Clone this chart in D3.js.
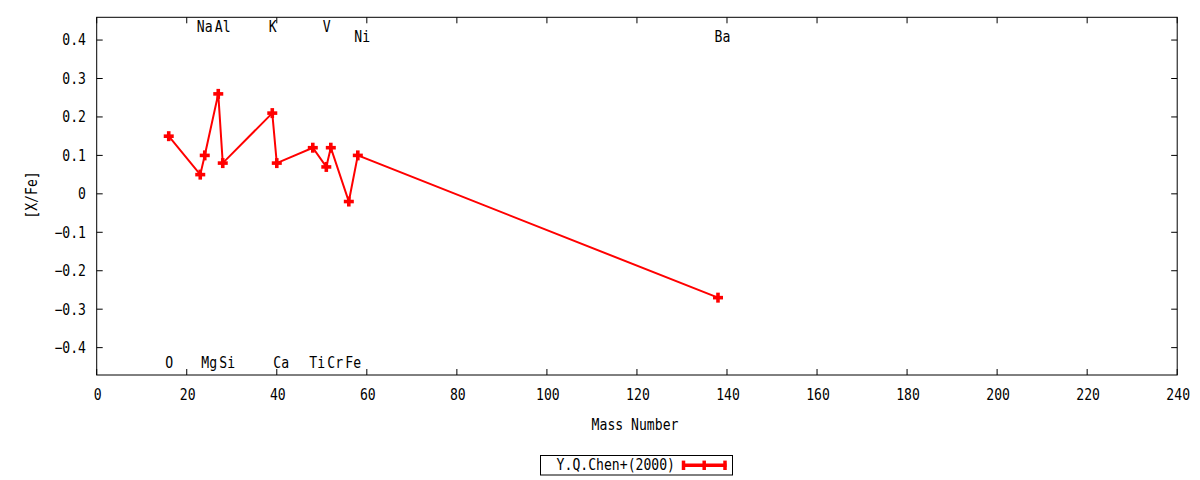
<!DOCTYPE html>
<html>
<head>
<meta charset="utf-8">
<script src="https://cdn.jsdelivr.net/npm/d3@7"></script>
<style>
  html, body { margin: 0; padding: 0; background: #fff; }
  svg text { font-family: "DejaVu Sans Mono", monospace; font-size: 15px; fill: #000; }
</style>
</head>
<body>
<svg id="chart" width="1200" height="480"></svg>
<script>
// Data
const elements = ["O", "Na", "Mg", "Al", "Si", "K", "Ca", "Ti", "V", "Cr", "Fe", "Ni", "Ba"];
const massNumbers = [16, 23, 24, 27, 28, 39, 40, 48, 51, 52, 56, 58, 138];
const xFe = [0.15, 0.05, 0.10, 0.26, 0.08, 0.21, 0.08, 0.12, 0.07, 0.12, -0.02, 0.10, -0.27];
// label y positions (in data units) as placed on the chart
const labelY = [-0.44, 0.435, -0.44, 0.435, -0.44, 0.435, -0.44, -0.44, 0.435, -0.44, -0.44, 0.408, 0.408];
const xTicks = [0, 20, 40, 60, 80, 100, 120, 140, 160, 180, 200, 220, 240];
const yTicks = [-0.4, -0.3, -0.2, -0.1, 0, 0.1, 0.2, 0.3, 0.4];
const seriesName = "Y.Q.Chen+(2000)";

(function () {
const svg = d3.select("#chart");
const pLeft = 96.7, pRight = 1177.2, pTop = 17.3, pBottom = 375;
const SX = 0.875; // horizontal condensation of the font

const x = d3.scaleLinear().domain([0, 240]).range([pLeft, pRight]);
const y = d3.scaleLinear().domain([-0.4712, 0.4592]).range([pBottom, pTop]);

const tickLen = 6;
const g = svg.append("g");

function label(px, py, txt, anchor, rot) {
  const t = g.append("text")
    .attr("transform", `translate(${px},${py})` + (rot ? ` rotate(${rot})` : "") + ` scale(${SX},1)`)
    .attr("text-anchor", anchor || "start")
    .attr("dy", "0.36em")
    .text(txt);
  return t;
}

// ticks (inward, mirrored)
xTicks.forEach(t => {
  g.append("line").attr("x1", x(t)).attr("x2", x(t)).attr("y1", pBottom).attr("y2", pBottom - tickLen).attr("stroke", "#000");
  g.append("line").attr("x1", x(t)).attr("x2", x(t)).attr("y1", pTop).attr("y2", pTop + tickLen).attr("stroke", "#000");
  label(x(t) + 1, 395, String(t), "middle");
});
yTicks.forEach(t => {
  g.append("line").attr("x1", pLeft).attr("x2", pLeft + tickLen).attr("y1", y(t)).attr("y2", y(t)).attr("stroke", "#000");
  g.append("line").attr("x1", pRight).attr("x2", pRight - tickLen).attr("y1", y(t)).attr("y2", y(t)).attr("stroke", "#000");
  label(86, y(t), t === 0 ? "0" : d3.format(".1f")(t), "end");
});

// border
g.append("rect").attr("x", pLeft).attr("y", pTop).attr("width", pRight - pLeft).attr("height", pBottom - pTop)
  .attr("fill", "none").attr("stroke", "#000").attr("stroke-width", 1);

// axis labels
label(635, 425, "Mass Number", "middle");
label(32, 195, "[X/Fe]", "middle", -90);

// element labels
elements.forEach((e, i) => {
  label(x(massNumbers[i]) - 3.5, y(labelY[i]), e, "start");
});

// series
const pts = massNumbers.map((m, i) => [m, xFe[i]]);
const line = d3.line().x(d => x(d[0])).y(d => y(d[1]));
g.append("path").attr("d", line(pts)).attr("fill", "none").attr("stroke", "#ff0000").attr("stroke-width", 2);

const ms = 5, mw = 3.6;
pts.forEach(d => {
  const cx = x(d[0]), cy = y(d[1]);
  g.append("line").attr("x1", cx - ms).attr("x2", cx + ms).attr("y1", cy).attr("y2", cy).attr("stroke", "#ff0000").attr("stroke-width", mw);
  g.append("line").attr("x1", cx).attr("x2", cx).attr("y1", cy - ms).attr("y2", cy + ms).attr("stroke", "#ff0000").attr("stroke-width", mw);
});

// legend
g.append("rect").attr("x", 540.5).attr("y", 455.5).attr("width", 192).attr("height", 19.5)
  .attr("fill", "none").attr("stroke", "#000");
label(675, 465, seriesName, "end");
const ly = 465.3;
g.append("line").attr("x1", 682).attr("x2", 726.5).attr("y1", ly).attr("y2", ly).attr("stroke", "#ff0000").attr("stroke-width", 3.5);
[683.5, 704.2, 725].forEach(cx => {
  g.append("line").attr("x1", cx).attr("x2", cx).attr("y1", ly - 4.7).attr("y2", ly + 4.7).attr("stroke", "#ff0000").attr("stroke-width", 3.5);
});
})();
</script>
</body>
</html>
